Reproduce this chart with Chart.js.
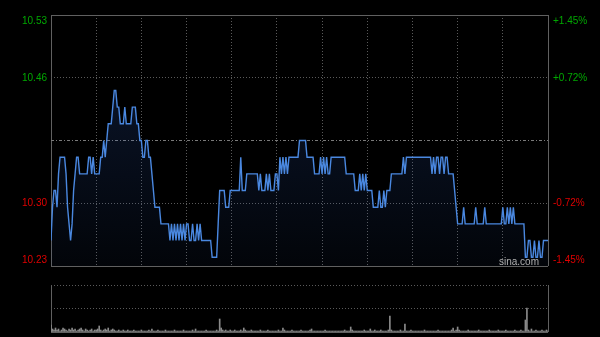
<!DOCTYPE html>
<html><head><meta charset="utf-8">
<script src="https://cdn.jsdelivr.net/npm/chart.js@4/dist/chart.umd.min.js"></script>
<style>
html,body{margin:0;padding:0;background:#000;width:600px;height:337px;overflow:hidden}
#wrap{position:relative;width:600px;height:337px;background:#000}
#main{position:absolute;left:0;top:0}
#vol{position:absolute;left:0;top:280px}
#logo{position:absolute;left:499px;top:256px;font:10px "Liberation Sans",Arial,sans-serif;line-height:12px;color:#b0b0b0}
</style></head>
<body>
<div id="wrap">
<canvas id="main" width="600" height="280"></canvas>
<canvas id="vol" width="600" height="57"></canvas>
<div id="logo">sina.com</div>
</div>
<script>
// ---- data ----
const prevClose = 10.38;
const pctLevels = [-1.45, -0.725, 0, 0.725, 1.45];
const leftLabels = ['10.23', '10.30', '', '10.46', '10.53'];
const rightLabels = ['-1.45%', '-0.72%', '', '+0.72%', '+1.45%'];
const timeTicks = [0, 30, 60, 90, 120, 150, 180, 210, 240, 270, 300, 330];

const prices = [
10.26,10.30,10.32,10.32,10.30,10.34,10.36,10.36,10.36,10.36,
10.34,10.30,10.28,10.26,10.28,10.32,10.34,10.36,10.36,10.34,
10.34,10.34,10.34,10.34,10.34,10.36,10.36,10.34,10.36,10.34,
10.34,10.34,10.34,10.36,10.36,10.38,10.36,10.38,10.40,10.40,
10.40,10.42,10.44,10.44,10.42,10.42,10.40,10.40,10.40,10.42,
10.40,10.40,10.40,10.40,10.42,10.42,10.42,10.40,10.40,10.38,
10.38,10.36,10.36,10.38,10.38,10.36,10.36,10.34,10.32,10.30,
10.30,10.30,10.30,10.28,10.28,10.28,10.28,10.28,10.28,10.26,
10.28,10.26,10.28,10.26,10.28,10.26,10.28,10.26,10.28,10.26,
10.28,10.28,10.26,10.26,10.28,10.26,10.26,10.28,10.26,10.28,
10.26,10.26,10.26,10.26,10.26,10.26,10.26,10.24,10.24,10.24,
10.24,10.28,10.32,10.32,10.32,10.32,10.30,10.30,10.30,10.32,
10.32,10.32,10.32,10.32,10.32,10.32,10.36,10.32,10.32,10.32,
10.34,10.34,10.34,10.34,10.34,10.34,10.34,10.34,10.32,10.34,
10.32,10.32,10.32,10.34,10.32,10.34,10.32,10.32,10.32,10.34,
10.34,10.32,10.36,10.34,10.36,10.34,10.36,10.34,10.36,10.36,
10.36,10.36,10.36,10.36,10.36,10.38,10.38,10.38,10.38,10.38,
10.36,10.36,10.36,10.36,10.36,10.34,10.34,10.34,10.34,10.36,
10.34,10.36,10.34,10.36,10.34,10.34,10.36,10.36,10.36,10.36,
10.36,10.36,10.36,10.36,10.36,10.36,10.34,10.34,10.34,10.34,
10.34,10.34,10.32,10.32,10.32,10.34,10.32,10.34,10.32,10.34,
10.32,10.32,10.32,10.32,10.30,10.30,10.30,10.30,10.32,10.30,
10.30,10.32,10.30,10.32,10.32,10.32,10.34,10.34,10.34,10.34,
10.34,10.34,10.34,10.34,10.36,10.34,10.36,10.36,10.36,10.36,
10.36,10.36,10.36,10.36,10.36,10.36,10.36,10.36,10.36,10.36,
10.36,10.36,10.36,10.34,10.36,10.34,10.36,10.36,10.34,10.36,
10.36,10.34,10.36,10.36,10.34,10.34,10.34,10.34,10.32,10.30,
10.28,10.28,10.28,10.28,10.30,10.28,10.28,10.28,10.28,10.28,
10.28,10.28,10.30,10.28,10.28,10.28,10.28,10.28,10.30,10.28,
10.28,10.28,10.28,10.28,10.28,10.28,10.28,10.28,10.28,10.28,
10.30,10.28,10.28,10.30,10.28,10.30,10.28,10.30,10.28,10.28,
10.28,10.28,10.28,10.28,10.28,10.24,10.24,10.26,10.26,10.24,
10.24,10.26,10.24,10.24,10.26,10.24,10.24,10.26,10.26,10.26,
10.26
];

const volumes = [
7,3,2,4,2,3,1,2,4,3,
2,1,3,2,4,2,3,1,2,3,
4,2,1,3,2,1,2,3,1,2,
2,3,6,2,1,2,3,2,4,1,
2,3,2,1,1,2,1,1,2,1,
1,2,1,1,1,2,1,1,1,1,
2,1,1,1,1,2,1,3,1,1,
1,2,1,1,1,1,2,1,1,1,
1,1,2,1,1,1,1,1,2,1,
1,1,1,1,2,1,3,1,1,1,
1,1,1,2,1,1,1,1,1,1,
2,1,13,4,2,1,2,1,1,2,
1,1,2,1,1,1,2,1,4,2,
1,1,1,2,1,1,1,1,1,2,
1,1,1,1,2,1,1,1,1,1,
1,2,1,1,4,2,1,1,1,1,
2,1,1,1,1,1,2,1,1,1,
1,1,2,3,1,1,1,1,1,1,
1,1,2,1,1,1,1,1,1,1,
1,1,1,1,1,2,1,1,1,5,
2,1,1,1,1,1,1,1,2,1,
1,1,3,1,1,2,1,1,1,2,
1,1,1,1,2,16,2,1,1,1,
1,1,2,1,1,8,1,1,1,2,
1,1,1,1,1,1,1,1,2,1,
1,1,1,1,1,1,1,2,1,1,
1,1,1,1,1,1,2,4,1,2,
5,2,1,1,1,1,1,2,1,1,
1,1,1,1,2,1,1,1,1,1,
1,2,1,1,1,1,1,2,1,1,
1,1,2,1,1,1,1,1,2,1,
1,1,2,1,1,12,24,2,1,3,
1,1,2,1,1,1,2,1,1,2,
1
];
const volMax = 47;

// ---- styles ----
const GREEN = '#00a800', RED = '#e00000';
const FONT = {family: '"Liberation Sans", Arial, sans-serif', size: 10};
const yMin = prevClose * (1 + pctLevels[0] / 100);
const yMax = prevClose * (1 + pctLevels[pctLevels.length - 1] / 100);
const lastT = timeTicks.length - 1;
const noPad = (s) => { s.paddingTop = 0; s.paddingBottom = 0; s.paddingLeft = 0; s.paddingRight = 0; };

new Chart(document.getElementById('main'), {
  type: 'line',
  data: {
    datasets: [{
      data: prices.map((p, i) => ({x: i, y: p})),
      borderColor: '#4a88e0',
      borderWidth: 1.4,
      pointRadius: 0,
      tension: 0,
      fill: 'start',
      backgroundColor: (ctx) => {
        const a = ctx.chart.chartArea;
        if (!a) return 'rgba(40,80,160,0.15)';
        const g = ctx.chart.ctx.createLinearGradient(0, a.top, 0, a.bottom);
        g.addColorStop(0, 'rgba(45,90,180,0.28)');
        g.addColorStop(1, 'rgba(45,90,180,0.05)');
        return g;
      }
    }]
  },
  options: {
    responsive: false,
    animation: false,
    layout: {padding: {left: 0, right: 0, top: 15, bottom: 14}},
    plugins: {legend: {display: false}, tooltip: {enabled: false}},
    scales: {
      x: {
        type: 'linear', min: 0, max: 330, offset: false,
        afterBuildTicks: (s) => { s.ticks = timeTicks.map(v => ({value: v})); },
        afterFit: (s) => { s.height = 0; noPad(s); },
        ticks: {display: false},
        grid: {drawTicks: false, lineWidth: 1,
          color: (c) => (c.index === 0 || c.index === lastT) ? '#606060' : '#5a5a5a'},
        border: {display: false,
          dash: (c) => (c.index === 0 || c.index === lastT) ? [] : [1, 2]}
      },
      y: {
        position: 'left', min: yMin, max: yMax,
        afterBuildTicks: (s) => { s.ticks = pctLevels.map(p => ({value: prevClose * (1 + p / 100)})); },
        afterFit: (s) => { s.width = 51; noPad(s); },
        ticks: {
          padding: 4, font: FONT,
          color: (c) => c.index > 2 ? GREEN : RED,
          callback: (v, i) => i === 0 ? [leftLabels[i], ''] : (i === pctLevels.length - 1 ? ['', leftLabels[i]] : leftLabels[i])
        },
        grid: {drawTicks: false, lineWidth: 1,
          color: (c) => (c.index === 0 || c.index === 4) ? '#606060' : (c.index === 2 ? '#7a7a7a' : '#5a5a5a')},
        border: {display: false,
          dash: (c) => (c.index === 0 || c.index === 4) ? [] : (c.index === 2 ? [3, 2, 1, 2] : [1, 2])}
      },
      y2: {
        position: 'right', min: yMin, max: yMax,
        afterBuildTicks: (s) => { s.ticks = pctLevels.map(p => ({value: prevClose * (1 + p / 100)})); },
        afterFit: (s) => { s.width = 52; noPad(s); },
        ticks: {
          padding: 5, font: FONT,
          color: (c) => c.index > 2 ? GREEN : RED,
          callback: (v, i) => i === 0 ? [rightLabels[i], ''] : (i === pctLevels.length - 1 ? ['', rightLabels[i]] : rightLabels[i])
        },
        grid: {display: false, drawTicks: false},
        border: {display: false}
      }
    }
  }
});

new Chart(document.getElementById('vol'), {
  type: 'bar',
  data: {
    datasets: [{
      data: volumes.map((v, i) => ({x: i, y: v})),
      backgroundColor: '#8a8a8a',
      borderWidth: 0,
      barThickness: 1
    }]
  },
  options: {
    responsive: false,
    animation: false,
    layout: {padding: {left: 51, right: 52, top: 5, bottom: 5}},
    plugins: {legend: {display: false}, tooltip: {enabled: false}},
    scales: {
      x: {
        type: 'linear', min: 0, max: 330, offset: false,
        afterBuildTicks: (s) => { s.ticks = [{value: 0}, {value: 330}]; },
        afterFit: (s) => { s.height = 0; noPad(s); },
        ticks: {display: false},
        grid: {drawTicks: false, color: '#606060', offset: false},
        border: {display: false}
      },
      y: {
        min: 0, max: volMax,
        afterBuildTicks: (s) => { s.ticks = [0, volMax / 2, volMax].map(v => ({value: v})); },
        afterFit: (s) => { s.width = 0; noPad(s); },
        ticks: {display: false},
        grid: {drawTicks: false, color: (c) => c.index === 0 ? '#606060' : '#5a5a5a'},
        border: {display: false, dash: (c) => c.index === 0 ? [] : [1, 2]}
      }
    }
  }
});
</script>
</body></html>
